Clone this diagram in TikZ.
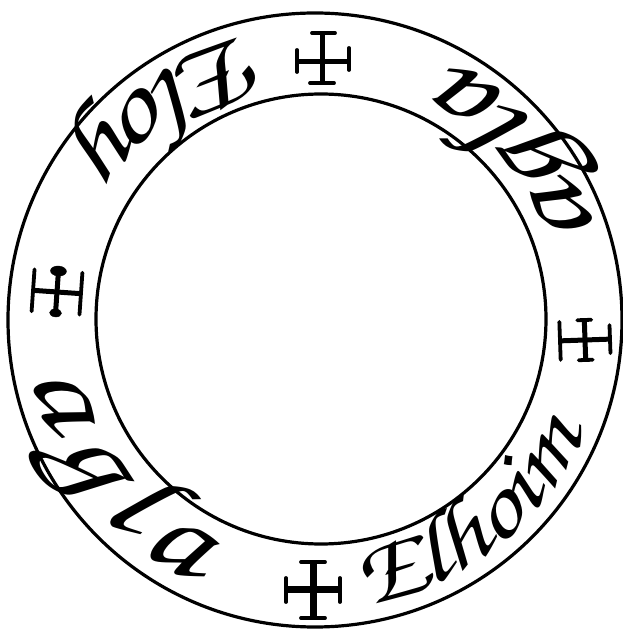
\documentclass[tikz,border=0pt]{standalone}
\usepackage{fontspec}
\newfontfamily\handfont[FakeStretch=1.2]{texgyrechorus-mediumitalic.otf}
\usetikzlibrary{decorations.text}

\tikzset{
  ring/.style={black, line width=3.2pt},
  crossstem/.style={black, line width=5pt},
  crossbar/.style={black, line width=3.8pt, line cap=round},
  namearc/.style={decorate, decoration={text along path, text align={fit to path}, text={#1}}}
}

\begin{document}
\begin{tikzpicture}[x=1pt,y=1pt]
\useasboundingbox (0,0) rectangle (623,635);
\coordinate (outerc) at (315,315);
\coordinate (innerc) at (321,316);
\coordinate (textc) at (318,316);

% the two rings
\draw[ring] (outerc) circle (307);
\draw[ring] (innerc) circle (225);

% top cross
\begin{scope}[shift={(322,577)}]
\draw[crossstem] (0,-25) -- (0,25);
\draw[crossbar] (-10,25) -- (13,25);
\draw[crossbar] (-12,-25) -- (12,-25);
\draw[crossstem] (-25,-4) -- (27,-4);
\draw[crossbar] (-25,-14) -- (-25,8);
\draw[crossbar] (27,-12) -- (27,10);
\end{scope}

% left cross
\begin{scope}[shift={(57,343)}, rotate=86]
\draw[crossstem] (0,-24) -- (0,24);
\draw[crossbar] (-21,24) -- (21,24);
\draw[crossbar] (-21,-24) -- (21,-24);
\draw[crossstem] (-20,0) -- (20,0);
\filldraw[black] (-21,0) ellipse (4 and 6);
\filldraw[black] (21,0) ellipse (5 and 8);
\end{scope}

% right cross
\begin{scope}[shift={(585,295)}, rotate=-88]
\draw[crossstem] (0,-25) -- (0,25);
\draw[crossbar] (-19,-25) -- (19,-25);
\draw[crossbar] (-14,25) -- (14,25);
\draw[crossstem] (-20,0) -- (20,0);
\draw[crossbar] (-20,-7) -- (-20,7);
\draw[crossbar] (20,-7) -- (20,7);
\end{scope}

% bottom cross
\begin{scope}[shift={(313,45)}]
\draw[black, line width=7pt] (0,-28) -- (0,28);
\draw[black, line width=7pt] (-27,0) -- (27,0);
\draw[crossbar] (-12,28) -- (12,28);
\draw[crossbar] (-12,-28) -- (12,-28);
\draw[crossbar] (-27,-12) -- (-27,12);
\draw[crossbar] (27,-12) -- (27,12);
\end{scope}

% names round the ring
\path[namearc={|\handfont\fontsize{94}{94}\selectfont|Elhoim}]
  (textc) ++(-81:290) arc[start angle=-81, end angle=-25, radius=290];
\path[namearc={|\handfont\fontsize{116}{116}\selectfont|agla}]
  (textc) ++(17:291) arc[start angle=17, end angle=60, radius=291];
\path[namearc={|\handfont\fontsize{106}{106}\selectfont|Eloy}]
  (textc) ++(103:291) arc[start angle=103, end angle=142, radius=291];
\path[namearc={|\handfont\fontsize{120}{120}\selectfont|agla}]
  (textc) ++(191:291) arc[start angle=191, end angle=244, radius=291];
\end{tikzpicture}
\end{document}
